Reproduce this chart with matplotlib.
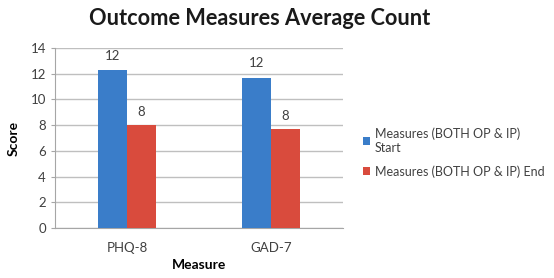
import numpy as np
import matplotlib
matplotlib.use("Agg")
from matplotlib import pyplot as plt

## data
measures = ["PHQ-8", "GAD-7"]
start_scores = [12.3, 11.7]
end_scores = [8.0, 7.7]
start_labels = ["12", "12"]
end_labels = ["8", "8"]
series_names = ["Measures (BOTH OP & IP)\nStart", "Measures (BOTH OP & IP) End"]

plt.rcParams['font.family'] = ['Lato', 'DejaVu Sans']

blue = "#3a7dc9"
red = "#d94b3d"
grey = "#a6a6a6"

fig = plt.figure(figsize=(5.54, 2.78), dpi=100)
ax = fig.add_axes([0.0993, 0.18, 0.5197, 0.647])

x = np.arange(len(measures))
w = 0.2
b1 = ax.bar(x - w / 2, start_scores, w, color=blue, label=series_names[0], zorder=3)
b2 = ax.bar(x + w / 2, end_scores, w, color=red, label=series_names[1], zorder=3)

for rect, lab in zip(b1, start_labels):
    ax.annotate(lab, (rect.get_x() + rect.get_width() / 2, rect.get_height()),
                xytext=(0, 6), textcoords="offset points", ha="center", va="bottom",
                fontsize=9.5, color="#404040")
for rect, lab in zip(b2, end_labels):
    ax.annotate(lab, (rect.get_x() + rect.get_width() / 2, rect.get_height()),
                xytext=(0, 5), textcoords="offset points", ha="center", va="bottom",
                fontsize=9.5, color="#404040")

ax.set_xlim(-0.5, 1.5)
ax.set_ylim(0, 14)
ax.set_yticks(range(0, 15, 2))
ax.set_xticks(x)
ax.set_xticklabels(measures)
ax.tick_params(axis="both", labelsize=9.5, colors="#404040", length=3, color=grey)
ax.tick_params(axis="x", length=0, pad=10)
ax.grid(axis="y", color="#bfbfbf", linewidth=1, zorder=0)

for s in ["top", "right"]:
    ax.spines[s].set_visible(False)
for s in ["left", "bottom"]:
    ax.spines[s].set_color(grey)

ax.set_ylabel("Score", fontsize=10, fontweight="bold", labelpad=8)
ax.set_xlabel("Measure", fontsize=10, fontweight="bold", labelpad=4)

fig.text(0.469, 0.935, "Outcome Measures Average Count", ha="center", va="center",
         fontsize=15.7, fontweight="bold", color="#1a1a1a")

leg = ax.legend(loc="center left", bbox_to_anchor=(1.03, 0.42), frameon=False,
                fontsize=9, handlelength=0.6, handleheight=0.6, handletextpad=0.35,
                labelspacing=0.9)
for t in leg.get_texts():
    t.set_color("#404040")

plt.savefig("out.png", dpi=100)
